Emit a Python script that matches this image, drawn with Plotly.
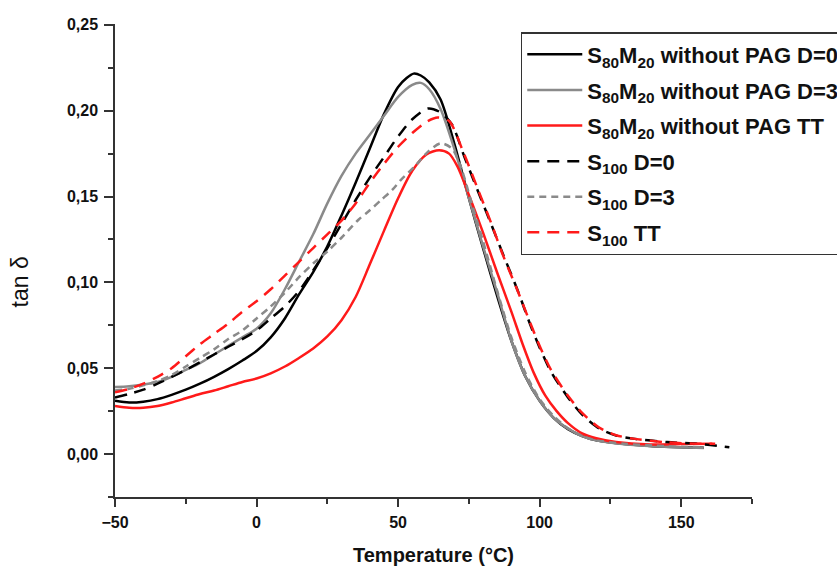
import plotly.graph_objects as go

# ---- data ----
names = [
    "S<sub>80</sub>M<sub>20</sub> without PAG D=0",
    "S<sub>80</sub>M<sub>20</sub> without PAG D=3",
    "S<sub>80</sub>M<sub>20</sub> without PAG TT",
    "S<sub>100</sub> D=0",
    "S<sub>100</sub> D=3",
    "S<sub>100</sub> TT",
]

t_s80_d0 = [-50, -45, -40, -35, -30, -25, -20, -15, -10, -5, 0, 5, 10, 15, 20, 25, 30, 35, 40, 45, 50, 53, 55.5, 58, 61, 65, 70, 75, 80, 85, 90, 95, 100, 105, 110, 115, 120, 130, 140, 150, 158]
y_s80_d0 = [0.031, 0.030, 0.0305, 0.032, 0.0345, 0.0375, 0.041, 0.045, 0.0495, 0.0545, 0.060, 0.068, 0.079, 0.093, 0.106, 0.121, 0.139, 0.158, 0.178, 0.198, 0.2138, 0.219, 0.2216, 0.2205, 0.2165, 0.2065, 0.180, 0.149, 0.120, 0.092, 0.066, 0.045, 0.031, 0.021, 0.0145, 0.0105, 0.008, 0.0058, 0.0046, 0.004, 0.0037]

t_s80_d3 = [-50, -45, -40, -35, -30, -25, -20, -15, -10, -5, 0, 5, 10, 15, 20, 25, 30, 35, 40, 45, 50, 55, 58, 61, 65, 70, 75, 80, 85, 90, 95, 100, 105, 110, 115, 120, 130, 140, 150, 158]
y_s80_d3 = [0.039, 0.0395, 0.0405, 0.042, 0.045, 0.049, 0.053, 0.058, 0.063, 0.068, 0.073, 0.082, 0.096, 0.112, 0.128, 0.146, 0.162, 0.175, 0.186, 0.197, 0.208, 0.215, 0.2162, 0.2125, 0.201, 0.177, 0.149, 0.121, 0.094, 0.066, 0.045, 0.031, 0.021, 0.0148, 0.0105, 0.008, 0.0057, 0.0045, 0.004, 0.0036]

t_s80_tt = [-50, -45, -40, -35, -30, -25, -20, -15, -10, -5, 0, 5, 10, 15, 20, 25, 30, 35, 40, 45, 50, 55, 60, 64.5, 68, 71, 75, 80, 85, 90, 94, 98, 102, 106, 110, 115, 120, 127, 139, 150, 161]
y_s80_tt = [0.028, 0.027, 0.027, 0.028, 0.030, 0.0325, 0.035, 0.037, 0.0395, 0.042, 0.044, 0.047, 0.051, 0.056, 0.0615, 0.0685, 0.078, 0.0915, 0.1105, 0.130, 0.149, 0.165, 0.1745, 0.177, 0.175, 0.1674, 0.151, 0.129, 0.1056, 0.083, 0.064, 0.047, 0.034, 0.025, 0.018, 0.012, 0.0092, 0.007, 0.0056, 0.0058, 0.006]

t_s100_d0 = [-50, -45, -40, -35, -30, -25, -20, -15, -10, -5, 0, 5, 10, 15, 20, 25, 30, 35, 40, 45, 50, 55, 60.5, 65, 69, 73.4, 78, 82.7, 87.4, 92.1, 97, 100, 104, 110, 115, 121, 127, 133, 145, 156, 167]
y_s100_d0 = [0.033, 0.035, 0.0375, 0.041, 0.045, 0.049, 0.0535, 0.058, 0.0625, 0.067, 0.072, 0.079, 0.086, 0.095, 0.107, 0.120, 0.134, 0.148, 0.161, 0.173, 0.185, 0.195, 0.2013, 0.199, 0.192, 0.1732, 0.154, 0.1346, 0.115, 0.0959, 0.074, 0.062, 0.048, 0.033, 0.023, 0.015, 0.0108, 0.009, 0.007, 0.006, 0.004]

t_s100_d3 = [-50, -45, -40, -35, -30, -25, -20, -15, -10, -5, 0, 5, 10, 15, 20, 25, 30, 36, 40, 44, 48, 51, 55.8, 60.5, 65, 69, 72, 76, 80, 85, 90, 95, 100, 105, 110, 115, 120, 130, 140, 150, 157]
y_s100_d3 = [0.037, 0.038, 0.040, 0.0425, 0.046, 0.051, 0.056, 0.061, 0.067, 0.072, 0.079, 0.086, 0.094, 0.103, 0.111, 0.118, 0.126, 0.1365, 0.142, 0.148, 0.154, 0.1597, 0.1674, 0.176, 0.181, 0.178, 0.168, 0.146, 0.124, 0.095, 0.068, 0.047, 0.032, 0.022, 0.015, 0.0105, 0.008, 0.006, 0.005, 0.0042, 0.004]

t_s100_tt = [-50, -45, -40, -35, -30, -25, -20, -15, -10, -5, 0, 5, 10, 15, 20, 25, 30, 35, 40, 45, 50, 55, 60, 64, 68, 73, 78, 83, 87, 92, 97, 100, 104, 110, 115, 121, 127, 133, 145, 155, 162]
y_s100_tt = [0.036, 0.038, 0.041, 0.045, 0.050, 0.057, 0.064, 0.070, 0.076, 0.083, 0.089, 0.096, 0.104, 0.112, 0.120, 0.128, 0.136, 0.146, 0.158, 0.169, 0.179, 0.187, 0.1935, 0.196, 0.194, 0.176, 0.155, 0.134, 0.116, 0.096, 0.075, 0.063, 0.049, 0.034, 0.024, 0.0155, 0.011, 0.009, 0.0068, 0.006, 0.006]

x_ticks = [-50, 0, 50, 100, 150]
y_ticks = [0.00, 0.05, 0.10, 0.15, 0.20, 0.25]
y_ticktext = ["0,00", "0,05", "0,10", "0,15", "0,20", "0,25"]

series = [
    (t_s80_d0, y_s80_d0, "#000000", "solid"),
    (t_s80_d3, y_s80_d3, "#8a8a8a", "solid"),
    (t_s80_tt, y_s80_tt, "#ff1a1a", "solid"),
    (t_s100_d0, y_s100_d0, "#000000", "12px,8px"),
    (t_s100_d3, y_s100_d3, "#8a8a8a", "7px,5px"),
    (t_s100_tt, y_s100_tt, "#ff1a1a", "12px,8px"),
]

FONT = "Liberation Sans, Arial, sans-serif"

fig = go.Figure()
for i, (name, (tx, ty, col, dash)) in enumerate(zip(names, series)):
    fig.add_trace(go.Scatter(
        x=tx, y=ty, name=name, mode="lines", legendgroup=f"g{i}",
        line=dict(color=col, width=2.5, dash=dash, shape="spline", smoothing=0.8),
    ))

fig.update_layout(
    width=837, height=567,
    margin=dict(l=115, r=85, t=24, b=70, autoexpand=False),
    paper_bgcolor="white", plot_bgcolor="white",
    font=dict(family=FONT, color="#1a1a1a"),
    showlegend=True,
    legend=dict(
        x=0.637, y=0.983, xanchor="left", yanchor="top",
        bordercolor="#333333", borderwidth=1.5, bgcolor="white",
        font=dict(size=22, family=FONT, weight="bold", color="#111111"),
        itemwidth=55, tracegroupgap=4, traceorder="grouped",
    ),
    annotations=[dict(
        text="tan δ", textangle=-90, showarrow=False,
        xref="paper", yref="y", x=-0.149, y=0.10, xanchor="center", yanchor="middle",
        font=dict(size=23, family=FONT, color="#111111"),
    )],
)

fig.update_xaxes(
    range=[-50, 175], tickmode="array", tickvals=x_ticks,
    showline=True, linecolor="#333333", linewidth=1.5, mirror=False,
    ticks="outside", ticklen=8, tickwidth=1.5, tickcolor="#333333",
    minor=dict(dtick=25, tick0=-50, ticks="outside", ticklen=5, tickwidth=1.5, tickcolor="#333333"),
    showgrid=False, zeroline=False,
    tickfont=dict(size=16, family=FONT, weight="bold", color="#111111"),
    ticklabelstandoff=2,
    title=dict(text="Temperature (°C)", font=dict(size=20, family=FONT, weight="bold", color="#111111"), standoff=18),
)
fig.update_yaxes(
    range=[-0.025, 0.2505], tickmode="array", tickvals=y_ticks, ticktext=y_ticktext,
    showline=True, linecolor="#333333", linewidth=1.5, mirror=False,
    ticks="outside", ticklen=9, tickwidth=1.5, tickcolor="#333333",
    minor=dict(dtick=0.025, tick0=0, ticks="outside", ticklen=5, tickwidth=1.5, tickcolor="#333333"),
    showgrid=False, zeroline=False,
    tickfont=dict(size=16, family=FONT, weight="bold", color="#111111"),
    ticklabelstandoff=3,
)

fig.write_html("out.html")
